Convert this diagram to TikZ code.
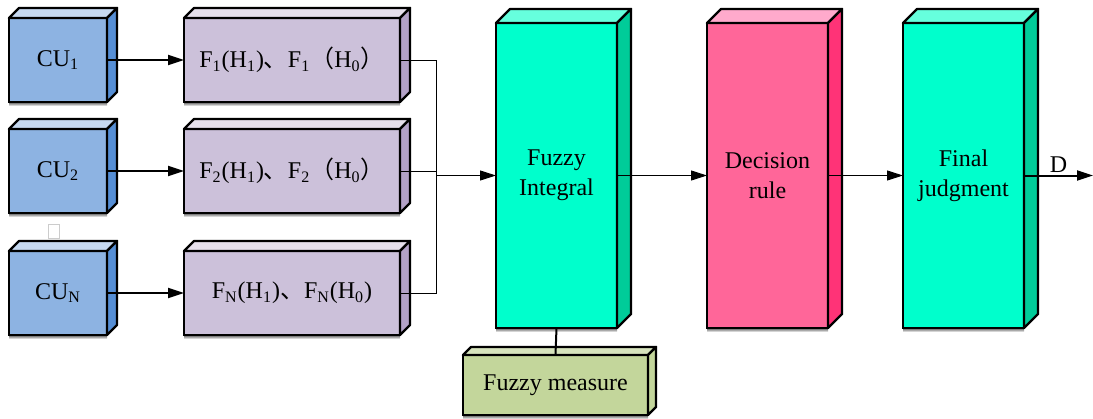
\documentclass[tikz,border=0pt]{standalone}
\usepackage{fontspec}
\setmainfont{Liberation Serif}
\newfontfamily\cjk{Noto Sans CJK SC}
\usetikzlibrary{arrows.meta,calc}

\definecolor{cufront}{HTML}{8DB3E2}
\definecolor{cuside}{HTML}{558ED5}
\definecolor{cutop}{HTML}{C6D9F1}
\definecolor{ffront}{HTML}{CCC1DA}
\definecolor{fside}{HTML}{B3A2C7}
\definecolor{ftop}{HTML}{E6E0EC}
\definecolor{tfront}{HTML}{00FFCC}
\definecolor{tside}{HTML}{00CC99}
\definecolor{ttop}{HTML}{66FFDD}
\definecolor{rfront}{HTML}{FF6699}
\definecolor{rside}{HTML}{FF3377}
\definecolor{rtop}{HTML}{FFAACC}
\definecolor{mfront}{HTML}{C3D69B}
\definecolor{mtop}{HTML}{D7E4BD}
\definecolor{shade}{HTML}{DCE6F2}

\tikzset{
  box/.style={draw, line width=1.2pt, outer sep=0pt, align=center,
    font=\rmfamily\fontsize{12}{15}\selectfont},
  link/.style={line width=0.5pt},
  thick link/.style={line width=1pt},
  tip/.style={-{Triangle[length=8pt,width=5pt]}},
}

% faces of a block: node, depth, top colour, side colour
\newcommand{\blockfaces}[4]{%
  \fill[shade] ($(#1.south west)+(0,1)$) rectangle ($(#1.south east)+(0,4)$);
  \draw[line width=1.2pt, fill=#3, line join=round] (#1.north west) -- ++(#2,-#2)
    -- ($(#1.north east)+(#2,-#2)$) -- (#1.north east) -- cycle;
  \draw[line width=1.2pt, fill=#4, line join=round] (#1.north east) -- ++(#2,-#2)
    -- ($(#1.south east)+(#2,-#2)$) -- (#1.south east) -- cycle;
}

\begin{document}
\begin{tikzpicture}[x=0.5pt,y=-0.5pt]
\useasboundingbox (0,0) rectangle (1093,418);

%Channel units
\node [box, fill=cufront, minimum width=49pt, minimum height=42pt] (cu1) at (58,60) {CU\textsubscript{1}};
\node [box, fill=cufront, minimum width=49pt, minimum height=42pt] (cu2) at (58,171) {CU\textsubscript{2}};
\node [box, fill=cufront, minimum width=49pt, minimum height=42pt] (cun) at (58,293) {CU\textsubscript{N}};
\blockfaces{cu1}{10}{cutop}{cuside}
\blockfaces{cu2}{10}{cutop}{cuside}
\blockfaces{cun}{10}{cutop}{cuside}

\node [draw=gray!40, line width=0.5pt, minimum width=5.5pt, minimum height=7pt, inner sep=0pt] (gap) at (54,231) {};

%Likelihood functions
\node [box, fill=ffront, minimum width=108pt, minimum height=42pt] (f1) at (292,60) {F\textsubscript{1}(H\textsubscript{1}){\cjk 、}F\textsubscript{1}{\cjk （}H\textsubscript{0}{\cjk ）}};
\node [box, fill=ffront, minimum width=108pt, minimum height=42pt] (f2) at (292,171) {F\textsubscript{2}(H\textsubscript{1}){\cjk 、}F\textsubscript{2}{\cjk （}H\textsubscript{0}{\cjk ）}};
\node [box, fill=ffront, minimum width=108pt, minimum height=42pt] (fn) at (292,293) {F\textsubscript{N}(H\textsubscript{1}){\cjk 、}F\textsubscript{N}(H\textsubscript{0})};
\blockfaces{f1}{10}{ftop}{fside}
\blockfaces{f2}{10}{ftop}{fside}
\blockfaces{fn}{10}{ftop}{fside}

%Fusion stages
\node [box, fill=tfront, minimum width=60.5pt, minimum height=152.5pt] (fi) at (556.5,175.5) {Fuzzy\\Integral};
\node [box, fill=rfront, minimum width=60.5pt, minimum height=152.5pt] (dr) at (767.5,175.5) {Decision\\rule};
\node [box, fill=tfront, minimum width=60.5pt, minimum height=152.5pt] (fj) at (963.5,175.5) {Final\\judgment};
\blockfaces{fi}{14}{ttop}{tside}
\blockfaces{dr}{14}{rtop}{rside}
\blockfaces{fj}{14}{ttop}{tside}

%Fuzzy measure
\node [box, fill=mfront, minimum width=92.5pt, minimum height=30pt] (fm) at (555.5,385) {Fuzzy measure};
\blockfaces{fm}{8}{mtop}{mfront}

%Connectors
\draw[thick link, tip] (cu1.east) -- (f1.west);
\draw[thick link, tip] (cu2.east) -- (f2.west);
\draw[thick link, tip] (cun.east) -- (fn.west);

\coordinate (join) at (436,175.5);
\draw[link] (f1.east) -| (join);
\draw[link] (fn.east) -| (join);
\draw[link] (f2.east) -- (f2.east -| join);
\draw[link, tip] (join) -- (fi.west);

\draw[link, tip] (fi.east) -- (dr.west);
\draw[link, tip] (dr.east) -- (fj.west);
\coordinate (dout) at (1093,175.5);
\draw[thick link, tip] (fj.east) -- node[above, font=\rmfamily\fontsize{12}{15}\selectfont, inner sep=1pt] (dlabel) {D} (dout);

\draw[thick link] (fi.south) -- (fm.north);

\end{tikzpicture}
\end{document}
